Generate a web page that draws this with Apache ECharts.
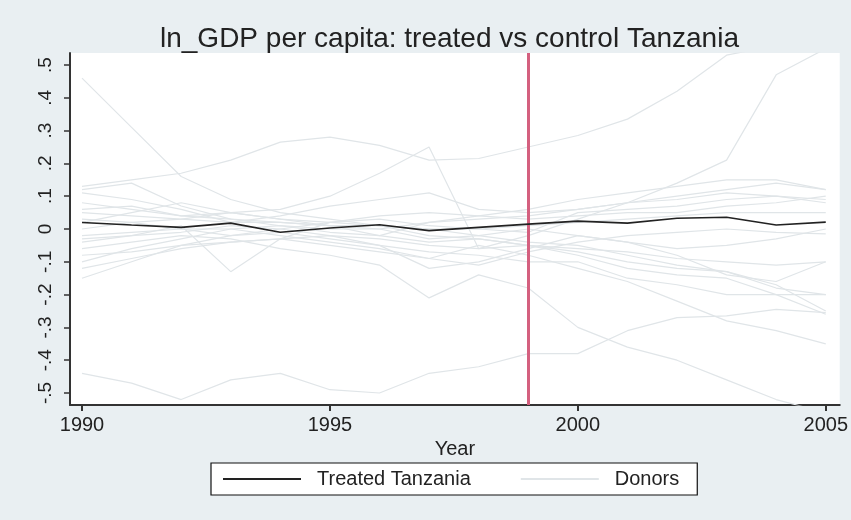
<!DOCTYPE html>
<html>
<head>
<meta charset="utf-8">
<script src="https://cdn.jsdelivr.net/npm/echarts@6/dist/echarts.min.js"></script>
<style>
  html, body { margin: 0; padding: 0; background: #e9eff2; }
  #chart { width: 851px; height: 520px; }
</style>
</head>
<body>
<div id="chart"></div>
<script>
// years on the x axis
const years = [1990, 1991, 1992, 1993, 1994, 1995, 1996, 1997, 1998, 1999, 2000, 2001, 2002, 2003, 2004, 2005]
const treatYear = 1999

// tick values and labels
const xTicks = [1990, 1995, 2000, 2005]
const yTicks = [-0.5, -0.4, -0.3, -0.2, -0.1, 0, 0.1, 0.2, 0.3, 0.4, 0.5]
const yTickLabels = ['-.5', '-.4', '-.3', '-.2', '-.1', '0', '.1', '.2', '.3', '.4', '.5']

// treated Tanzania gap
const treated = [0.020, 0.012, 0.005, 0.018, -0.010, 0.003, 0.013, -0.005, 0.005, 0.015, 0.024, 0.018, 0.033, 0.036, 0.012, 0.021]

// donor (placebo) gaps
const donor01 = [0.46, 0.31, 0.16, 0.09, 0.05, 0.03, 0.01, -0.02, -0.03, -0.05, -0.07, -0.10, -0.12, -0.13, -0.18, -0.20]
const donor02 = [0.13, 0.15, 0.17, 0.21, 0.265, 0.28, 0.255, 0.21, 0.215, 0.25, 0.285, 0.335, 0.42, 0.53, 0.56, 0.58]
const donor03 = [0.11, 0.09, 0.06, 0.02, 0.04, 0.07, 0.09, 0.11, 0.06, 0.05, 0.06, 0.08, 0.14, 0.21, 0.47, 0.55]
const donor04 = [0.02, 0.05, 0.08, 0.05, 0.06, 0.10, 0.17, 0.25, -0.06, -0.02, 0.03, 0.08, 0.10, 0.12, 0.14, 0.12]
const donor05 = [-0.44, -0.47, -0.52, -0.46, -0.44, -0.49, -0.50, -0.44, -0.42, -0.38, -0.38, -0.31, -0.27, -0.265, -0.245, -0.255]
const donor06 = [0.12, 0.14, 0.07, 0.03, 0.02, 0.01, -0.02, 0.02, 0.04, 0.06, 0.09, 0.11, 0.13, 0.15, 0.15, 0.12]
const donor07 = [-0.04, -0.02, 0.01, -0.13, -0.03, 0.02, 0.03, 0.01, 0.00, -0.01, 0.05, 0.06, 0.07, 0.09, 0.10, 0.09]
const donor08 = [-0.06, -0.04, -0.02, -0.03, -0.06, -0.08, -0.11, -0.21, -0.14, -0.18, -0.30, -0.36, -0.40, -0.46, -0.52, -0.56]
const donor09 = [-0.15, -0.10, -0.05, -0.02, -0.01, -0.03, -0.05, -0.07, -0.08, -0.10, -0.10, -0.15, -0.17, -0.20, -0.20, -0.20]
const donor10 = [-0.10, -0.06, -0.03, 0.00, 0.01, -0.01, -0.02, -0.04, -0.03, -0.05, -0.06, -0.07, -0.09, -0.10, -0.11, -0.10]
const donor11 = [0.08, 0.06, 0.04, 0.03, 0.01, 0.00, 0.00, 0.02, 0.03, 0.04, 0.06, 0.08, 0.09, 0.11, 0.10, 0.08]
const donor12 = [-0.02, -0.01, 0.00, 0.00, -0.02, -0.04, -0.06, -0.09, -0.05, -0.08, -0.12, -0.16, -0.22, -0.28, -0.31, -0.35]
const donor13 = [0.05, 0.04, 0.03, 0.02, 0.02, 0.01, 0.01, 0.00, 0.00, 0.01, 0.02, 0.03, 0.04, 0.05, 0.05, 0.05]
const donor14 = [-0.08, -0.07, -0.05, -0.04, -0.03, -0.05, -0.07, -0.09, -0.11, -0.07, -0.04, -0.02, -0.01, 0.00, -0.01, -0.015]
const donor15 = [0.00, 0.02, 0.03, 0.05, 0.03, 0.02, 0.01, 0.00, -0.02, -0.04, -0.05, -0.08, -0.11, -0.13, -0.17, -0.25]
const donor16 = [-0.12, -0.09, -0.06, -0.04, -0.03, -0.02, -0.03, -0.05, -0.06, -0.05, -0.08, -0.12, -0.14, -0.15, -0.20, -0.26]
const donor17 = [0.03, 0.02, 0.00, -0.02, 0.00, 0.02, 0.04, 0.05, 0.04, 0.03, 0.04, 0.05, 0.05, 0.07, 0.08, 0.10]
const donor18 = [-0.03, -0.02, -0.01, 0.01, 0.00, -0.02, -0.05, -0.12, -0.10, -0.06, -0.02, -0.04, -0.06, -0.05, -0.03, 0.00]
const donor19 = [0.06, 0.07, 0.04, 0.05, 0.03, 0.01, 0.00, -0.03, -0.02, 0.00, -0.02, -0.04, -0.08, -0.14, -0.16, -0.10]

const donors = [donor01, donor02, donor03, donor04, donor05, donor06, donor07, donor08, donor09, donor10,
    donor11, donor12, donor13, donor14, donor15, donor16, donor17, donor18, donor19]

const donorColor = '#e0e5e8'
const font = 'Liberation Sans, Arial, sans-serif'

// 把年份和数值拼成 [x, y]
const toPairs = arr => arr.map((v, i) => [years[i], v])

const series = []
donors.forEach(d => {
    series.push({
        name: 'Donors',
        type: 'line',
        data: toPairs(d),
        symbol: 'none',
        silent: true,
        color: donorColor,
        lineStyle: { color: donorColor, width: 1.2 },
        z: 2
    })
})
series.push({
    name: 'Treated Tanzania',
    type: 'line',
    data: toPairs(treated),
    symbol: 'none',
    color: '#222',
    lineStyle: { color: '#222', width: 1.6 },
    z: 5,
    markLine: {
        silent: true,
        symbol: 'none',
        label: { show: false },
        lineStyle: { color: '#d4607f', width: 3, type: 'solid' },
        data: [{ xAxis: treatYear }]
    }
})

const chart = echarts.init(document.getElementById('chart'))
chart.setOption({
    backgroundColor: '#e9eff2',
    animation: false,
    title: {
        text: 'ln_GDP per capita: treated vs control Tanzania',
        left: 155,
        top: 20,
        textStyle: { fontFamily: font, fontSize: 28, fontWeight: 'normal', color: '#222' }
    },
    grid: {
        left: 70, right: 11, top: 53, bottom: 115,
        show: true, backgroundColor: '#fff', borderWidth: 0
    },
    legend: {
        data: [
            { name: 'Treated Tanzania', icon: 'rect' },
            { name: 'Donors', icon: 'rect' }
        ],
        left: 211,
        top: 463,
        orient: 'horizontal',
        itemWidth: 78,
        itemHeight: 2,
        itemGap: 50,
        padding: [6, 18, 6, 12],
        backgroundColor: '#fff',
        borderColor: '#111',
        borderWidth: 1.2,
        borderRadius: 0,
        selectedMode: false,
        textStyle: { fontFamily: font, fontSize: 20, color: '#222', padding: [0, 0, 0, 11] }
    },
    xAxis: {
        type: 'value',
        min: 1989.758,
        max: 2005.282,
        name: 'Year',
        nameLocation: 'middle',
        nameGap: 27,
        nameTextStyle: { fontFamily: font, fontSize: 20, color: '#222' },
        splitLine: { show: false },
        axisLine: { show: true, onZero: false, lineStyle: { color: '#333', width: 2 } },
        axisTick: { show: true, customValues: xTicks, length: 6, lineStyle: { color: '#333', width: 2 } },
        axisLabel: {
            customValues: xTicks,
            margin: 10,
            fontFamily: font, fontSize: 20, color: '#222',
            formatter: v => String(v)
        }
    },
    yAxis: {
        type: 'value',
        min: -0.5366,
        max: 0.5366,
        splitLine: { show: false },
        axisLine: { show: true, onZero: false, lineStyle: { color: '#333', width: 2 } },
        axisTick: { show: true, customValues: yTicks, length: 6, lineStyle: { color: '#333', width: 1.5 } },
        axisLabel: {
            customValues: yTicks,
            rotate: 90,
            margin: 15,
            fontFamily: font, fontSize: 19, color: '#222',
            formatter: v => {
                const i = yTicks.findIndex(t => Math.abs(t - v) < 1e-6)
                return i >= 0 ? yTickLabels[i] : ''
            }
        }
    },
    series
})
</script>
</body>
</html>
